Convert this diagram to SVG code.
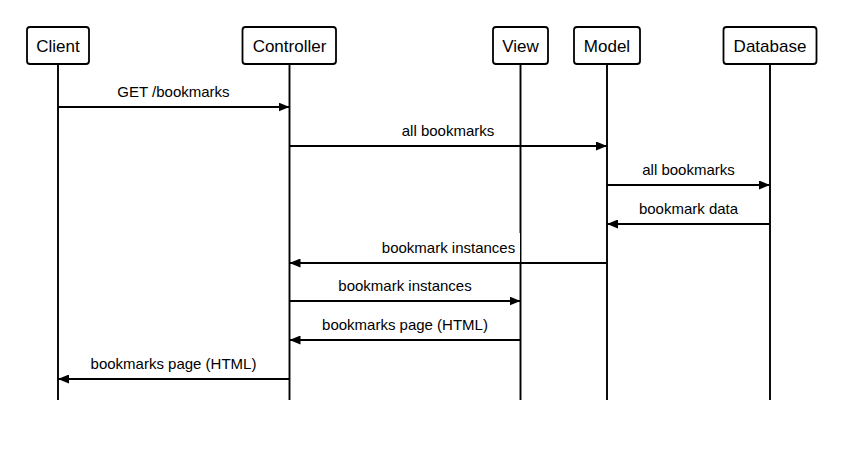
<svg xmlns="http://www.w3.org/2000/svg" width="846" height="453" viewBox="0 0 846 453">
<style>
.box{fill:#fff;stroke:#000;stroke-width:1.8}
.life{stroke:#000;stroke-width:1.9;fill:none}
.msg{stroke:#000;stroke-width:1.9;fill:none;marker-end:url(#ah)}
.hd{font-family:"Liberation Sans",Arial,Helvetica,sans-serif;font-size:17px;fill:#000;text-anchor:middle}
.lb{font-family:"Liberation Sans",Arial,Helvetica,sans-serif;font-size:15px;fill:#000;text-anchor:middle}
</style>
<defs>
<marker id="ah" viewBox="0 0 11 9" refX="11" refY="4.5" markerWidth="11" markerHeight="9" markerUnits="userSpaceOnUse" orient="auto">
<path d="M0,0 L11,4.5 L0,9 Z" fill="#000"/>
</marker>
</defs>
<rect width="846" height="453" fill="#fff"/>
<g id="client">
<line class="life" x1="58" y1="64" x2="58" y2="400"/>
<rect class="box" x="27" y="27" width="62" height="37" rx="3"/>
<text class="hd" x="58" y="51.5">Client</text>
</g>
<g id="controller">
<line class="life" x1="289.5" y1="64" x2="289.5" y2="400"/>
<rect class="box" x="242.5" y="27" width="93.5" height="37" rx="3"/>
<text class="hd" x="289.5" y="51.5">Controller</text>
</g>
<g id="view">
<line class="life" x1="520.5" y1="64" x2="520.5" y2="400"/>
<rect class="box" x="493" y="27" width="55" height="37" rx="3"/>
<text class="hd" x="520.5" y="51.5">View</text>
</g>
<g id="model">
<line class="life" x1="607" y1="64" x2="607" y2="400"/>
<rect class="box" x="574" y="27" width="66" height="37" rx="3"/>
<text class="hd" x="607" y="51.5">Model</text>
</g>
<g id="database">
<line class="life" x1="770" y1="64" x2="770" y2="400"/>
<rect class="box" x="723.5" y="27" width="93" height="37" rx="3"/>
<text class="hd" x="770" y="51.5">Database</text>
</g>
<g id="connectors">
<line class="msg" x1="58" y1="107" x2="289.5" y2="107"/>
<text class="lb" x="173.5" y="97">GET /bookmarks</text>
<line class="msg" x1="289.5" y1="146" x2="607" y2="146"/>
<text class="lb" x="448" y="136">all bookmarks</text>
<line class="msg" x1="607" y1="185" x2="770" y2="185"/>
<text class="lb" x="688.5" y="175">all bookmarks</text>
<line class="msg" x1="770" y1="224" x2="607" y2="224"/>
<text class="lb" x="688.5" y="214">bookmark data</text>
<line class="msg" x1="607" y1="263" x2="289.5" y2="263"/>
<rect x="378" y="233" width="142" height="29" fill="#fff"/>
<text class="lb" x="448.5" y="253">bookmark instances</text>
<line class="msg" x1="289.5" y1="301" x2="520.5" y2="301"/>
<text class="lb" x="405" y="291">bookmark instances</text>
<line class="msg" x1="520.5" y1="340" x2="289.5" y2="340"/>
<text class="lb" x="405" y="330">bookmarks page (HTML)</text>
<line class="msg" x1="289.5" y1="379" x2="58" y2="379"/>
<text class="lb" x="173.5" y="369">bookmarks page (HTML)</text>
</g>
</svg>
